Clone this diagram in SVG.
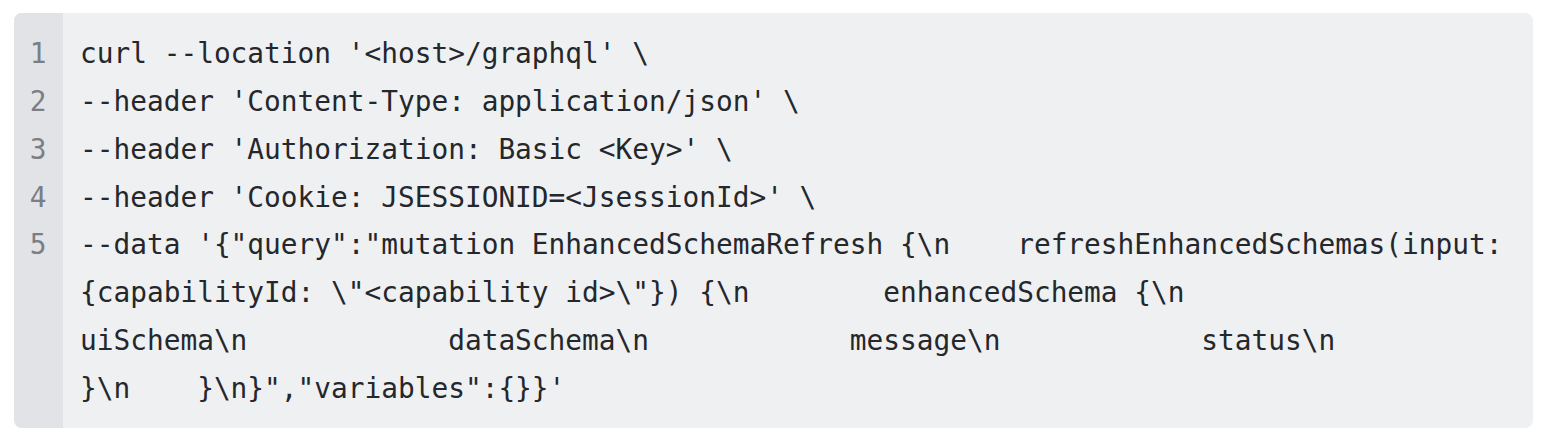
<svg xmlns="http://www.w3.org/2000/svg" width="1544" height="440" viewBox="0 0 1544 440">
  <style>
    .code { font-family: "DejaVu Sans Mono", "Liberation Mono", monospace; font-size: 27.8px; fill: #24272b; white-space: pre; }
    .ln { font-family: "DejaVu Sans Mono", "Liberation Mono", monospace; font-size: 27.8px; fill: #7b7e84; text-anchor: middle; }
  </style>
  <rect width="1544" height="440" fill="#ffffff"/>
  <g id="codeblock">
    <clipPath id="box"><rect x="14" y="13" width="1519" height="415" rx="8" ry="8"/></clipPath>
    <g clip-path="url(#box)">
      <rect x="14" y="13" width="1519" height="415" fill="#eff0f2"/>
      <rect x="14" y="13" width="49" height="415" fill="#e2e3e6"/>
    </g>
  </g>
  <g id="line-numbers">
    <text class="ln" x="38" y="63">1</text>
    <text class="ln" x="38" y="111">2</text>
    <text class="ln" x="38" y="159">3</text>
    <text class="ln" x="38" y="207">4</text>
    <text class="ln" x="38" y="254">5</text>
  </g>
  <g id="code">
    <text class="code" x="80" y="63" xml:space="preserve">curl --location '&lt;host&gt;/graphql' \</text>
    <text class="code" x="80" y="111" xml:space="preserve">--header 'Content-Type: application/json' \</text>
    <text class="code" x="80" y="159" xml:space="preserve">--header 'Authorization: Basic &lt;Key&gt;' \</text>
    <text class="code" x="80" y="207" xml:space="preserve">--header 'Cookie: JSESSIONID=&lt;JsessionId&gt;' \</text>
    <text class="code" x="80" y="254" xml:space="preserve">--data '{"query":"mutation EnhancedSchemaRefresh {\n    refreshEnhancedSchemas(input:</text>
    <text class="code" x="80" y="302" xml:space="preserve">{capabilityId: \"&lt;capability id&gt;\"}) {\n        enhancedSchema {\n</text>
    <text class="code" x="80" y="350" xml:space="preserve">uiSchema\n            dataSchema\n            message\n            status\n</text>
    <text class="code" x="80" y="398" xml:space="preserve">}\n    }\n}","variables":{}}'</text>
  </g>
</svg>
